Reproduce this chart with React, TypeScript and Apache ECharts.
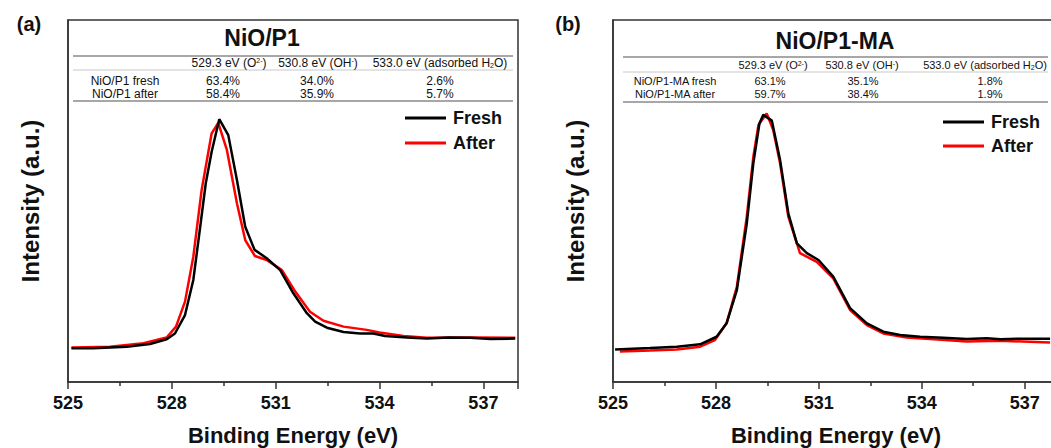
import React, { useEffect, useRef } from "react";
import * as echarts from "echarts";

// ---------- data ----------
const xTicks = [525, 528, 531, 534, 537];

const aFreshEv = [525.1, 525.73, 526.7, 527.37, 527.85, 528.09, 528.38, 528.62, 528.82, 528.98, 529.15, 529.37, 529.63, 529.88, 530.12, 530.39, 530.74, 531.13, 531.51, 531.9, 532.14, 532.48, 532.96, 533.44, 533.82, 534.16, 534.79, 535.37, 536.0, 536.62, 537.2, 537.92];
const aFreshI = [9.3, 9.3, 9.75, 10.5, 11.8, 13.4, 18.5, 28.2, 42.9, 54.9, 63.6, 72.6, 68.2, 55.8, 42.9, 36.5, 34.2, 30.9, 24.5, 19.0, 16.7, 15.0, 13.8, 13.4, 13.4, 12.7, 12.3, 12.0, 12.3, 12.2, 11.9, 12.0];

const aAfterEv = [525.1, 526.21, 527.18, 527.85, 528.12, 528.38, 528.62, 528.86, 529.15, 529.34, 529.59, 529.88, 530.12, 530.4, 530.74, 531.18, 531.57, 531.99, 532.38, 532.96, 533.63, 534.0, 534.69, 535.37, 536.81, 537.92];
const aAfterI = [9.5, 9.75, 10.7, 12.3, 15.3, 22.2, 34.6, 53.0, 68.7, 71.6, 64.1, 49.4, 39.2, 34.8, 33.7, 30.9, 24.9, 19.4, 16.9, 15.3, 14.4, 13.7, 12.7, 12.2, 12.3, 12.2];

const bFreshEv = [525.06, 526.08, 526.86, 527.54, 528.02, 528.31, 528.61, 528.9, 529.09, 529.27, 529.38, 529.63, 529.87, 530.11, 530.36, 530.65, 530.99, 531.42, 531.91, 532.4, 532.88, 533.37, 533.95, 534.63, 535.31, 535.89, 536.3, 536.77, 537.74];
const bFreshI = [9.0, 9.4, 9.75, 10.4, 12.5, 16.2, 25.4, 43.8, 60.4, 71.5, 73.8, 72.2, 61.3, 46.6, 38.3, 35.6, 33.7, 29.1, 20.4, 16.2, 13.9, 13.0, 12.5, 12.2, 11.9, 12.1, 11.8, 11.95, 11.95];

const bAfterEv = [525.2, 526.08, 526.86, 527.54, 527.97, 528.31, 528.61, 528.9, 529.09, 529.24, 529.48, 529.67, 529.87, 530.11, 530.45, 530.94, 531.42, 531.91, 532.4, 532.88, 533.56, 534.34, 535.31, 536.28, 537.74];
const bAfterI = [8.4, 8.7, 9.0, 9.75, 11.6, 16.2, 26.3, 45.7, 62.2, 71.0, 74.2, 69.6, 60.4, 45.7, 35.6, 33.2, 28.6, 19.9, 15.7, 13.4, 12.3, 11.8, 11.2, 11.4, 10.9];

const tableHeaders = ["529.3 eV (O{sup|2-})", "530.8 eV (OH{sup|-})", "533.0 eV (adsorbed H{sub|2}O)"];
const aRows = ["NiO/P1 fresh", "NiO/P1 after"];
const aValues = [["63.4%", "34.0%", "2.6%"], ["58.4%", "35.9%", "5.7%"]];
const bRows = ["NiO/P1-MA fresh", "NiO/P1-MA after"];
const bValues = [["63.1%", "35.1%", "1.8%"], ["59.7%", "38.4%", "1.9%"]];

// ---------- helpers ----------
const FONT = '"Liberation Sans", Arial, Helvetica, sans-serif';
const zip = (xs: number[], ys: number[]) => xs.map((x, i) => [x, ys[i]]);

function txt(x: number, y: number, text: string, size: number, bold = false, extra: any = {}) {
  return {
    type: "text",
    x,
    y,
    z: 100,
    ...extra,
    style: {
      text,
      fill: "#111",
      fontSize: size,
      fontWeight: bold ? "bold" : "normal",
      fontFamily: FONT,
      align: "center",
      verticalAlign: "middle",
      textAlign: "center",
      textVerticalAlign: "middle",
      rich: {
        sup: { fontSize: Math.round(size * 0.6), fontFamily: FONT, fill: "#111", verticalAlign: "top" },
        sub: { fontSize: Math.round(size * 0.6), fontFamily: FONT, fill: "#111", verticalAlign: "bottom" },
      },
    },
  };
}

function hline(x1: number, x2: number, y: number, color: string, w: number) {
  return { type: "line", z: 100, shape: { x1, y1: y, x2, y2: y }, style: { stroke: color, lineWidth: w } };
}

function table(cfg: any) {
  const els: any[] = [];
  els.push(txt(cfg.titleX, cfg.titleY, cfg.title, 23, true));
  els.push(hline(cfg.x1, cfg.x2, cfg.l1, "#8a8a8a", 1.5));
  els.push(hline(cfg.x1, cfg.x2, cfg.l2, "#c8c8c8", 1));
  els.push(hline(cfg.x1, cfg.x2, cfg.l3, "#8a8a8a", 1.5));
  tableHeaders.forEach((h, i) => els.push(txt(cfg.cols[i], cfg.headY, h, cfg.fs)));
  cfg.rows.forEach((r: string, ri: number) => {
    els.push(txt(cfg.labelX, cfg.rowY[ri], r, cfg.fs));
    cfg.values[ri].forEach((v: string, ci: number) => els.push(txt(cfg.valCols[ci], cfg.rowY[ri], v, cfg.fs)));
  });
  return els;
}

function xAxisCfg(gridIndex: number) {
  return {
    type: "value",
    gridIndex,
    min: 525,
    max: 538,
    interval: 3,
    name: "Binding Energy (eV)",
    nameLocation: "middle",
    nameGap: 42,
    nameTextStyle: { fontSize: 22, fontWeight: "bold", fontFamily: FONT, color: "#111" },
    axisLine: { show: true, lineStyle: { color: "#333", width: 1.5 } },
    axisTick: { show: true, inside: false, length: 7, lineStyle: { color: "#333", width: 1.5 } },
    minorTick: { show: true, splitNumber: 2, length: 4, lineStyle: { color: "#333", width: 1.5 } },
    axisLabel: {
      fontSize: 18,
      fontWeight: "bold",
      fontFamily: FONT,
      color: "#111",
      margin: 12,
      formatter: (v: number) => (xTicks.includes(v) ? String(v) : ""),
    },
    splitLine: { show: false },
    minorSplitLine: { show: false },
  };
}

function yAxisCfg(gridIndex: number) {
  return {
    type: "value",
    gridIndex,
    min: 0,
    max: 100,
    name: "Intensity (a.u.)",
    nameLocation: "middle",
    nameRotate: 90,
    nameGap: 26,
    nameTextStyle: { fontSize: 24, fontWeight: "bold", fontFamily: FONT, color: "#111" },
    axisLine: { show: true, lineStyle: { color: "#333", width: 1.5 } },
    axisTick: { show: false },
    axisLabel: { show: false },
    splitLine: { show: false },
  };
}

function lineSeries(name: string, color: string, xi: number, data: number[][]) {
  return {
    name,
    type: "line",
    xAxisIndex: xi,
    yAxisIndex: xi,
    data,
    symbol: "none",
    showSymbol: false,
    smooth: false,
    lineStyle: { color, width: 2.5 },
    itemStyle: { color },
  };
}

function legendCfg(left: number, top: number, gap: number) {
  return {
    orient: "vertical",
    left,
    top,
    padding: 0,
    icon: "rect",
    itemWidth: 41,
    itemHeight: 3,
    itemGap: gap,
    data: ["Fresh", "After"],
    textStyle: { fontSize: 18, fontWeight: "bold", fontFamily: FONT, color: "#111", padding: [0, 0, 0, 2] },
    selectedMode: false,
  };
}

export default function App() {
  const ref = useRef<HTMLDivElement>(null);
  useEffect(() => {
    if (!ref.current) return;
    const chart = echarts.init(ref.current, null, { renderer: "svg" });
    const graphics: any[] = [
      txt(29, 24, "(a)", 20, true),
      txt(568, 24, "(b)", 20, true),
      ...table({
        title: "NiO/P1",
        titleX: 262,
        titleY: 38,
        x1: 73,
        x2: 513,
        l1: 56,
        l2: 70,
        l3: 101,
        cols: [229, 318, 440],
        headY: 63,
        rows: aRows,
        values: aValues,
        labelX: 125,
        valCols: [223, 317, 440],
        rowY: [81, 94],
        fs: 12,
      }),
      ...table({
        title: "NiO/P1-MA",
        titleX: 835,
        titleY: 41,
        x1: 623,
        x2: 1048,
        l1: 57,
        l2: 72,
        l3: 102,
        cols: [773, 862, 985],
        headY: 65,
        rows: bRows,
        values: bValues,
        labelX: 675,
        valCols: [770, 863, 990],
        rowY: [81, 94],
        fs: 11,
      }),
    ];
    chart.setOption({
      animation: false,
      backgroundColor: "#fff",
      grid: [
        { left: 68, top: 20, width: 450, height: 362, show: true, borderColor: "#333", borderWidth: 1.5, backgroundColor: "transparent", containLabel: false, outerBoundsMode: "none" },
        { left: 613, top: 20, width: 446, height: 362, show: true, borderColor: "#333", borderWidth: 1.5, backgroundColor: "transparent", containLabel: false, outerBoundsMode: "none" },
      ],
      xAxis: [xAxisCfg(0), xAxisCfg(1)],
      yAxis: [yAxisCfg(0), yAxisCfg(1)],
      legend: [legendCfg(405, 109, 7), legendCfg(943, 113, 6)],
      series: [
        lineSeries("After", "#ff0000", 0, zip(aAfterEv, aAfterI)),
        lineSeries("Fresh", "#000000", 0, zip(aFreshEv, aFreshI)),
        lineSeries("After", "#ff0000", 1, zip(bAfterEv, bAfterI)),
        lineSeries("Fresh", "#000000", 1, zip(bFreshEv, bFreshI)),
      ],
      graphic: { elements: graphics },
    });
    return () => chart.dispose();
  }, []);
  return <div ref={ref} style={{ position: "absolute", left: 0, top: 0, width: 1051, height: 448 }} />;
}
